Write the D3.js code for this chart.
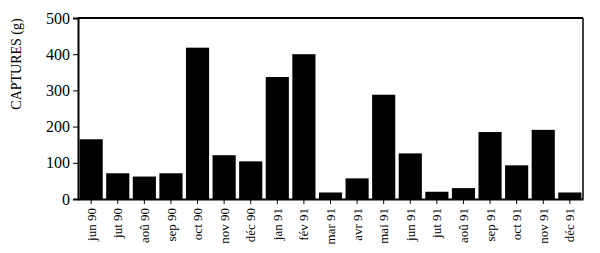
<!DOCTYPE html>
<html>
<head>
<meta charset="utf-8">
<script src="https://cdn.jsdelivr.net/npm/d3@7"></script>
<style>
body { margin: 0; background: #fff; }
svg text { font-family: "Liberation Serif", "Times New Roman", Times, serif !important; fill: #000; }
</style>
</head>
<body>
<div class="chart"></div>
<script>
// month labels and catches (g)
var months = ["jun 90", "jut 90", "aoû 90", "sep 90", "oct 90", "nov 90", "déc 90",
  "jan 91", "fév 91", "mar 91", "avr 91", "mai 91", "jun 91", "jut 91", "aoû 91",
  "sep 91", "oct 91", "nov 91", "déc 91"];
var captures = [165, 71, 62, 71, 418, 121, 104, 337, 400, 18, 57, 288, 126, 20, 30, 185, 93, 191, 18];
var yTicks = [0, 100, 200, 300, 400, 500];

var svgWidth = 600;
var svgHeight = 253;
var margin = {top: 18, right: 17, bottom: 54, left: 78};
var width = svgWidth - margin.left - margin.right;
var height = svgHeight - margin.top - margin.bottom;

var svg = d3.select('.chart').append('svg').attr('width', svgWidth).attr('height', svgHeight)
  .attr('font-family', '"Liberation Serif", serif');
var chart = svg.append('g').attr('transform', `translate(${margin.left}, ${margin.top})`);

var xScale = d3.scaleBand().domain(months).range([0, width]).paddingInner(0.13).paddingOuter(0.06);
var yScale = d3.scaleLinear().domain([0, 500]).range([height, 0]);

// bars
chart.selectAll("rect.bar").data(captures).enter().append("rect")
  .attr("class", "bar")
  .attr("x", function(d, i) { return xScale(months[i]); })
  .attr("y", function(d) { return yScale(d); })
  .attr("width", xScale.bandwidth())
  .attr("height", function(d) { return height - yScale(d); })
  .attr("fill", "#000");

// frame top and right
chart.append("line").attr("x1", 0).attr("x2", width).attr("y1", 0).attr("y2", 0)
  .attr("stroke", "#000").attr("stroke-width", 2);
chart.append("line").attr("x1", width).attr("x2", width).attr("y1", 0).attr("y2", height)
  .attr("stroke", "#000").attr("stroke-width", 1.5);

// y axis
var yAxis = d3.axisLeft(yScale).tickValues(yTicks).tickSize(5).tickPadding(3);
var gy = chart.append("g").attr("class", "y-axis").call(yAxis);
gy.attr("font-family", null);
gy.select(".domain").attr("stroke-width", 2);
gy.selectAll("text").attr("font-size", "16px");

// x axis
var xAxis = d3.axisBottom(xScale).tickSize(5).tickSizeOuter(0).tickPadding(4);
var gx = chart.append("g").attr("class", "x-axis").attr("transform", `translate(0, ${height})`).call(xAxis);
gx.attr("font-family", null);
gx.select(".domain").attr("stroke-width", 2);
gx.selectAll("text")
  .attr("font-size", "13px")
  .attr("transform", "rotate(-90)")
  .attr("text-anchor", "end")
  .attr("dy", "0.35em")
  .attr("x", -9)
  .attr("y", 0);

// y label
svg.append("text")
  .attr("transform", `translate(21, 64) rotate(-90)`)
  .attr("text-anchor", "middle")
  .attr("font-size", "14px")
  .text("CAPTURES (g)");
</script>
</body>
</html>
